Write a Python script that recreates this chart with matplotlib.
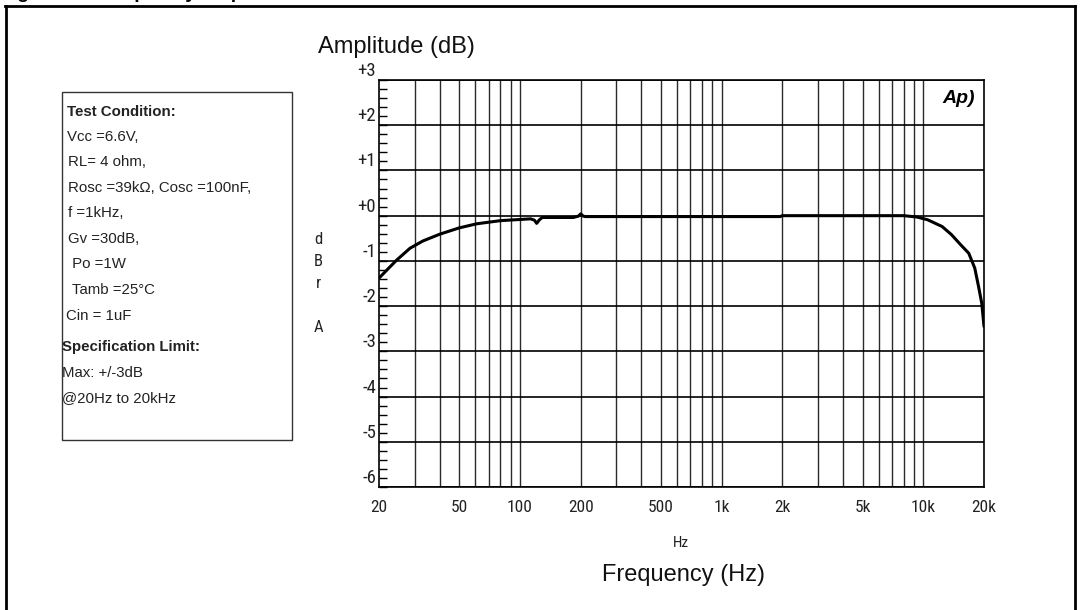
import matplotlib
matplotlib.use("Agg")
import matplotlib.pyplot as plt
from matplotlib import font_manager
from matplotlib.lines import Line2D
from matplotlib.patches import Rectangle
from matplotlib.ticker import FixedLocator, NullFormatter, NullLocator

# ---------------- data ----------------
freq_hz = [20, 24.5, 28.5, 33, 40, 50, 61, 80, 113, 118, 121, 125, 129,
           184, 195, 200, 206, 211, 500, 1000, 1900, 1950, 2000, 5000, 8000,
           9300, 10500, 12400, 13800, 15300, 16800, 18000, 18800, 19500, 20000]
amp_db = [-1.38, -0.98, -0.72, -0.56, -0.41, -0.27, -0.18, -0.11, -0.07, -0.10,
          -0.17, -0.09, -0.04, -0.04, -0.01, 0.04, -0.01, -0.02, -0.02, -0.02,
          -0.02, -0.02, 0.0, 0.0, 0.0, -0.03, -0.09, -0.24, -0.42, -0.64,
          -0.83, -1.16, -1.57, -1.94, -2.45]

x_tick_vals = [20, 50, 100, 200, 500, 1000, 2000, 5000, 10000, 20000]
x_tick_labels = ["20", "50", "100", "200", "500", "1k", "2k", "5k", "10k", "20k"]
x_grid_vals = [30, 40, 50, 60, 70, 80, 90, 100, 200, 300, 400, 500, 600, 700,
               800, 900, 1000, 2000, 3000, 4000, 5000, 6000, 7000, 8000, 9000,
               10000]
y_tick_vals = [3, 2, 1, 0, -1, -2, -3, -4, -5, -6]
y_tick_labels = ["+3", "+2", "+1", "+0", "-1", "-2", "-3", "-4", "-5", "-6"]

cond_lines = ["Test Condition:", "Vcc =6.6V,", "RL= 4 ohm,",
              "Rosc =39k\u03a9, Cosc =100nF,", "f =1kHz,", "Gv =30dB,",
              " Po =1W", " Tamb =25\u00b0C", "Cin = 1uF",
              "Specification Limit:", "Max: +/-3dB", "@20Hz to 20kHz"]
cond_bold = [True, False, False, False, False, False, False, False, False,
             True, False, False]

# ---------------- fonts ----------------
def pick(names):
    for n in names:
        try:
            font_manager.findfont(font_manager.FontProperties(family=n),
                                  fallback_to_default=False)
            return n
        except Exception:
            pass
    return "DejaVu Sans"

narrow = pick(["Liberation Sans Narrow", "DejaVu Sans Condensed", "Roboto Condensed", "DejaVu Sans"])
sans = pick(["Liberation Sans", "Arial", "DejaVu Sans"])
plt.rcParams["font.family"] = [sans, "DejaVu Sans"]

W, H = 1080, 610
fig = plt.figure(figsize=(W / 100, H / 100), dpi=100)

def fx(px):
    return px / W

def fy(py):
    return 1 - py / H

# plot area in pixels
L, R, T, B = 379, 984, 80, 487
ax = fig.add_axes([fx(L), fy(B), fx(R) - fx(L), fy(T) - fy(B)])
ax.set_xscale("log")
ax.set_xlim(20, 20000)
ax.set_ylim(-6, 3)

for xv in x_grid_vals:
    ax.axvline(xv, color="#2a2a2a", lw=1.0, zorder=1)
for yv in y_tick_vals:
    ax.axhline(yv, color="black", lw=1.2, zorder=1)

ax.plot(freq_hz, amp_db, color="black", lw=2.2, zorder=3, solid_capstyle="round")

ax.xaxis.set_major_locator(FixedLocator(x_tick_vals))
ax.xaxis.set_minor_locator(NullLocator())
ax.set_xticklabels(x_tick_labels)
ax.tick_params(axis="x", length=0, pad=9, labelsize=12.5)
for t in ax.get_xticklabels():
    t.set_family([narrow, "DejaVu Sans"])
    t.set_color("#222222")

ax.yaxis.set_major_locator(FixedLocator(y_tick_vals))
ax.set_yticklabels(y_tick_labels)
minor_y = [v / 5 for v in range(-30, 16)]
ax.yaxis.set_minor_locator(FixedLocator(minor_y))
ax.yaxis.set_minor_formatter(NullFormatter())
ax.tick_params(axis="y", which="both", direction="in", length=6, width=1.0,
               pad=2, labelsize=13.5, color="black")
for t in ax.get_yticklabels():
    t.set_family([narrow, "DejaVu Sans"])
    t.set_color("#222222")
    t.set_va("bottom")

for s in ax.spines.values():
    s.set_color("black")
    s.set_linewidth(1.2)

# Ap logo
ax.text(0.985, 0.955, "Ap)", transform=ax.transAxes, ha="right", va="center",
        fontsize=14, fontstyle="italic", fontweight="bold", color="black")

# y label letters
for letter, py in zip(["d", "B", "r", "A"], [239, 262, 283, 328]):
    fig.text(fx(318), fy(py), letter, ha="center", va="center", fontsize=12,
             family=[narrow, "DejaVu Sans"], color="#222222")

fig.text(fx(681), fy(543), "Hz", ha="center", va="center", fontsize=11,
         family=[narrow, "DejaVu Sans"], color="#222222")
fig.text(fx(684), fy(575), "Frequency (Hz)", ha="center", va="center",
         fontsize=17, color="#111111")
fig.text(fx(318), fy(47), "Amplitude (dB)", ha="left", va="center",
         fontsize=17, color="#111111")

# truncated title at the very top
fig.text(fx(0), fy(-2), "Figure 13. Frequency response", ha="left",
         va="baseline", fontsize=14, fontweight="bold", color="black")

# outer frame
fr = dict(color="black", lw=2.0, transform=fig.transFigure)
fig.add_artist(Line2D([fx(6), fx(6)], [fy(6), fy(H + 5)], **fr))
fig.add_artist(Line2D([fx(5), fx(1075)], [fy(6), fy(6)], **fr))
fig.add_artist(Line2D([fx(1075), fx(1075)], [fy(6), fy(H + 5)], **fr))

# condition box
bx0, by0, bx1, by1 = 62, 92, 292, 440
fig.add_artist(Rectangle((fx(bx0), fy(by1)), fx(bx1) - fx(bx0), fy(by0) - fy(by1),
                         transform=fig.transFigure, fill=False,
                         edgecolor="#333333", lw=1.0))
line_y = [112, 137, 162, 188, 213, 239, 264, 290, 316, 347, 373, 398]
line_x = [67, 67, 68, 68, 68, 68, 68, 68, 66, 62, 62, 62]
for txt, b, px, py in zip(cond_lines, cond_bold, line_x, line_y):
    fig.text(fx(px), fy(py), txt, ha="left", va="center", fontsize=10.8,
             fontweight="bold" if b else "normal", color="#222222")

fig.savefig("out.png", dpi=100)
